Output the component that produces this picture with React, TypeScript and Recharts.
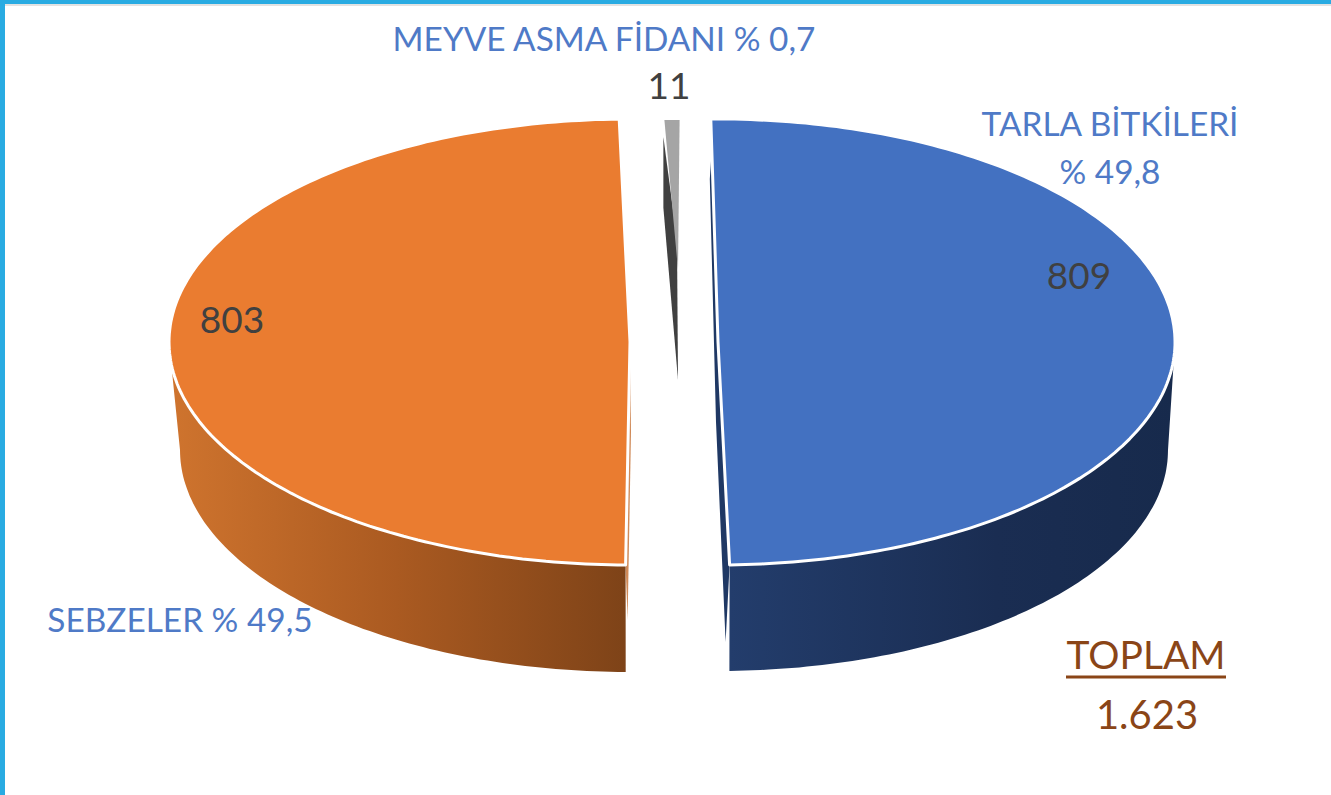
import { Pie, PieChart } from "recharts"

const categories = ["TARLA BİTKİLERİ", "SEBZELER", "MEYVE ASMA FİDANI"]
const values = [809, 803, 11]
const percents = ["% 49,8", "% 49,5", "% 0,7"]
const totalTitle = "TOPLAM"
const totalValue = "1.623"

const data = categories.map((name, i) => ({ name, value: values[i], percent: percents[i] }))

const FONT = "Lato, 'Open Sans', sans-serif"

// the picture is a perspective pie, so every slice gets its own ellipse
const slices = [
  { cx: 718, cy: 342, rx: 457, ry: 223, shift: 2, lowCx: 718, lowCy: 450, lowRx: 450, lowRy: 221, side: 0, top: "#4371c1", wall: "url(#blueWall)", edge: "#1f3864" },
  { cx: 630, cy: 342, rx: 461, ry: 223, shift: 0, lowCx: 630, lowCy: 450, lowRx: 450, lowRy: 222, side: -180, top: "#ea7c30", wall: "url(#orangeWall)", edge: "#d08a58" },
  { cx: 678, cy: 270, rx: 358, ry: 150, shift: 0.84, lowCx: 678, lowCy: 378, lowRx: 358, lowRy: 150, side: 0, top: "#a5a5a5", wall: "#404040", edge: "#404040" },
]

const labelSpots = [
  { value: [1079, 289], lines: [[1110, 136], [1110, 184]] },
  { value: [232, 333], lines: [[180, 632]] },
  { value: [669, 99], lines: [[604, 51]] },
]

const pt = (cx: number, cy: number, rx: number, ry: number, deg: number) => {
  const a = (deg * Math.PI) / 180
  return [cx + rx * Math.cos(a), cy - ry * Math.sin(a)]
}

const arc = (cx: number, cy: number, rx: number, ry: number, from: number, to: number) => {
  const steps = Math.max(2, Math.ceil(Math.abs(to - from)))
  const out: number[][] = []
  for (let i = 0; i <= steps; i++) out.push(pt(cx, cy, rx, ry, from + ((to - from) * i) / steps))
  return out
}

const toPath = (pts: number[][]) => "M" + pts.map((p) => p[0].toFixed(1) + " " + p[1].toFixed(1)).join("L") + "Z"

function Slice(props: any) {
  const s = slices[props.index]
  const start = props.startAngle + s.shift
  const end = props.endAngle + s.shift
  const rim = arc(s.cx, s.cy, s.rx, s.ry, start, end)
  const apex = [s.cx, s.cy]
  const first = rim[0]
  const last = rim[rim.length - 1]

  if (props.index === 2) {
    // the tiny slice only shows its dark radial face
    return (
      <g>
        <path
          d={toPath([[first[0] - 1, first[1] + 17], [apex[0] - 1, apex[1] - 30], [s.lowCx, s.lowCy + 2], [first[0] - 1, first[1] + 88]])}
          fill={s.wall}
        />
        <path d={toPath([apex, ...rim])} fill={s.top} />
      </g>
    )
  }

  // blue walks clockwise to its bottom end, orange starts there
  const bottomAngle = props.index === 0 ? end : start
  const bottomTop = pt(s.cx, s.cy, s.rx, s.ry, bottomAngle)
  const lowArc = arc(s.lowCx, s.lowCy, s.lowRx, s.lowRy, bottomAngle, s.side)
  const extreme = pt(s.cx, s.cy, s.rx, s.ry, s.side)
  const sliver =
    props.index === 0
      ? [[first[0] + 1, first[1] + 30], apex, last, [last[0] - 4, last[1] + 77], [apex[0] - 2, apex[1] + 80], [first[0] - 1, first[1] + 60]]
      : [apex, bottomTop, [bottomTop[0] + 2, bottomTop[1] + 55], [apex[0] + 1, apex[1] + 90]]

  return (
    <g>
      <path d={toPath(sliver)} fill={s.edge} />
      <path d={toPath([bottomTop, ...lowArc, extreme])} fill={s.wall} />
      <path d={toPath([apex, ...rim])} fill={s.top} stroke="#ffffff" strokeWidth={3} strokeLinejoin="round" />
    </g>
  )
}

function SliceLabel(props: any) {
  const spot = labelSpots[props.index]
  const row = data[props.index]
  const lines = spot.lines.length === 2 ? [row.name, row.percent] : [row.name + " " + row.percent]
  return (
    <g fontFamily={FONT}>
      <text x={spot.value[0]} y={spot.value[1]} textAnchor="middle" fontSize={37} fill="#404040">
        {row.value}
      </text>
      {lines.map((line, i) => (
        <text key={line} x={spot.lines[i][0]} y={spot.lines[i][1]} textAnchor="middle" fontSize={33.4} fill="#4f7ac7">
          {line}
        </text>
      ))}
    </g>
  )
}

export default function App() {
  return (
    <div style={{ position: "absolute", left: 0, top: 0, width: 1331, height: 795, background: "#ffffff", overflow: "hidden" }}>
      <PieChart width={1331} height={795} margin={{ top: 0, right: 0, bottom: 0, left: 0 }}>
        <defs>
          <linearGradient id="blueWall" x1="0" y1="0" x2="1" y2="0">
            <stop offset="0%" stopColor="#233d6c" />
            <stop offset="60%" stopColor="#1a2d52" />
            <stop offset="100%" stopColor="#172a4c" />
          </linearGradient>
          <linearGradient id="orangeWall" x1="0" y1="0" x2="1" y2="0">
            <stop offset="0%" stopColor="#cf742e" />
            <stop offset="50%" stopColor="#aa5a21" />
            <stop offset="100%" stopColor="#7e4318" />
          </linearGradient>
        </defs>
        <Pie
          data={data}
          dataKey="value"
          nameKey="name"
          cx={672}
          cy={342}
          outerRadius={222}
          startAngle={88.9}
          endAngle={-271.1}
          paddingAngle={0}
          stroke="none"
          shape={Slice}
          label={SliceLabel}
          labelLine={false}
          isAnimationActive={false}
        />
        <g fontFamily={FONT} fill="#8a4517" textAnchor="middle">
          <text x={1146} y={669} fontSize={39}>
            {totalTitle}
          </text>
          <text x={1147} y={729} fontSize={40}>
            {totalValue}
          </text>
        </g>
        <line x1={1066} x2={1226} y1={677} y2={677} stroke="#8a4517" strokeWidth={3} />
      </PieChart>
      <div style={{ position: "absolute", left: 0, top: 0, width: 1331, height: 4, background: "#29abe2" }} />
      <div style={{ position: "absolute", left: 5, top: 4, width: 1326, height: 2, background: "#e2e2e2" }} />
      <div style={{ position: "absolute", left: 0, top: 0, width: 5, height: 795, background: "#29abe2" }} />
    </div>
  )
}
